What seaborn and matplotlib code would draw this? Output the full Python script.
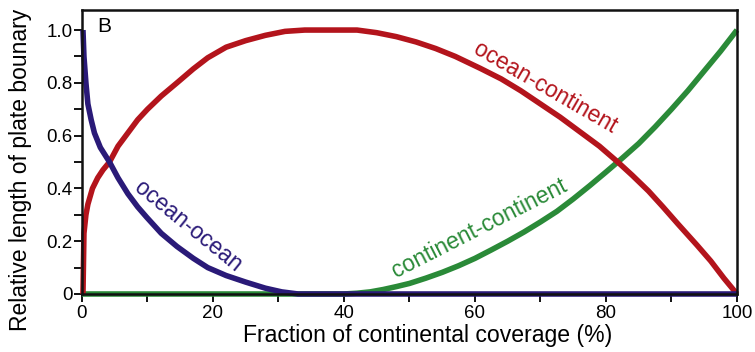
import seaborn as sns
import matplotlib.pyplot as plt
from matplotlib.ticker import MultipleLocator, FuncFormatter

# values
oo_x = [0.15, 0.3, 0.6, 0.9, 1.4, 1.9, 2.8, 4.2, 5.5, 7.0, 8.5, 9.9, 12.1, 14.5, 17, 19.2,
        22, 25, 28, 30.5, 33, 36, 40, 50, 60, 70, 80, 90, 100]
oo_y = [1.0, 0.9, 0.8, 0.72, 0.66, 0.61, 0.555, 0.50, 0.44, 0.38, 0.33, 0.29, 0.23, 0.18, 0.135, 0.10,
        0.07, 0.045, 0.022, 0.008, 0.0, 0, 0, 0, 0, 0, 0, 0, 0]

oc_x = [0.15, 0.3, 0.6, 0.9, 1.6, 2.4, 3.2, 4.2, 5.5, 7.0, 8.5, 10, 12.1, 14.5, 17, 19.2, 22, 25, 28, 31,
        34, 42, 45, 48, 51, 54, 57, 60.8, 64, 67, 70, 73, 76, 79, 81.8, 84, 86.5, 88.7, 91, 93.9, 96, 98, 100]
oc_y = [0, 0.23, 0.3, 0.34, 0.40, 0.44, 0.47, 0.50, 0.56, 0.61, 0.66, 0.70, 0.75, 0.80, 0.853, 0.895, 0.935, 0.96, 0.98, 0.995,
        1.0, 1.0, 0.99, 0.975, 0.955, 0.93, 0.9, 0.855, 0.815, 0.77, 0.72, 0.67, 0.615, 0.56, 0.50, 0.45, 0.39, 0.33, 0.265, 0.185, 0.125, 0.06, 0]

cc_x = [0, 38, 40, 42, 44, 46, 48, 50, 52.5, 55, 57.5, 60, 62.5, 65, 67.5, 70, 72.5, 75, 77.5, 80,
        82.5, 85, 87.5, 90, 92.5, 95, 97.5, 100]
cc_y = [0, 0, 0, 0.003, 0.008, 0.017, 0.028, 0.04, 0.06, 0.082, 0.107, 0.135, 0.167, 0.2, 0.235, 0.273, 0.313, 0.36, 0.41, 0.462,
        0.515, 0.57, 0.633, 0.7, 0.77, 0.845, 0.92, 1.0]

red = '#b3141c'
blue = '#2a1a78'
green = '#2a8a38'

sns.set_style('ticks')
plt.rcParams['font.family'] = ['Liberation Sans', 'DejaVu Sans']
plt.rcParams['text.color'] = 'black'
plt.rcParams['axes.labelcolor'] = 'black'

fig = plt.figure(figsize=(7.55, 3.52), dpi=100)
ax = fig.add_axes([0.1086, 0.1648, 0.8675, 0.8068])

lw = 4
sns.lineplot(x=cc_x, y=cc_y, color=green, linewidth=lw, estimator=None, sort=False, ax=ax)
sns.lineplot(x=oc_x, y=oc_y, color=red, linewidth=lw, estimator=None, sort=False, ax=ax)
sns.lineplot(x=oo_x, y=oo_y, color=blue, linewidth=lw, estimator=None, sort=False, ax=ax)
for ln in ax.lines:
    ln.set_clip_on(False)
    ln.set_solid_capstyle('butt')
    ln.set_solid_joinstyle('round')

ax.set_xlim(0, 100)
ax.set_ylim(0, 1.076)
ax.xaxis.set_major_locator(MultipleLocator(20))
ax.xaxis.set_minor_locator(MultipleLocator(10))
ax.yaxis.set_major_locator(MultipleLocator(0.2))
ax.yaxis.set_minor_locator(MultipleLocator(0.1))
ax.yaxis.set_major_formatter(FuncFormatter(lambda v, p: '0' if abs(v) < 1e-9 else f'{v:.1f}'))
ax.tick_params(which='both', direction='out', length=6, width=1.4, color='#111111',
               labelcolor='black', labelsize=13.5)
ax.tick_params(axis='x', pad=1.8)
ax.tick_params(axis='y', pad=1)
for s in ax.spines.values():
    s.set_linewidth(1.8)
    s.set_color('#111111')

ax.set_xlabel('Fraction of continental coverage (%)', fontsize=16.6)
ax.set_ylabel('Relative length of plate bounary', fontsize=16.5)
ax.xaxis.set_label_coords(0.528, -0.106)
ax.yaxis.set_label_coords(-0.076, 0.437)

ax.text(2.4, 1.049, 'B', fontsize=15, va='top', ha='left')
ax.text(16.2, 0.258, 'ocean-ocean', color=blue, fontsize=16.3, rotation=-39,
        ha='center', va='center', rotation_mode='anchor')
ax.text(70.7, 0.78, 'ocean-continent', color=red, fontsize=16.3, rotation=-30,
        ha='center', va='center', rotation_mode='anchor')
ax.text(60.6, 0.25, 'continent-continent', color=green, fontsize=16.5, rotation=27,
        ha='center', va='center', rotation_mode='anchor')

fig.savefig('out.png', dpi=100)
